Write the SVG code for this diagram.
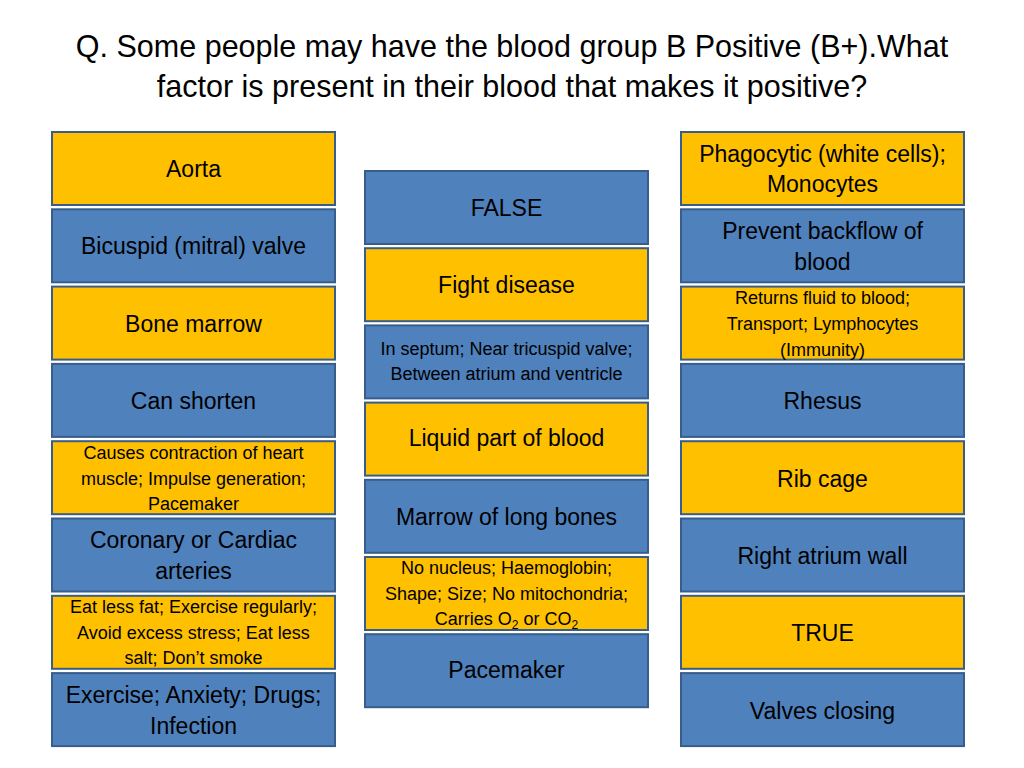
<svg xmlns="http://www.w3.org/2000/svg" width="1024" height="768" viewBox="0 0 1024 768">
<style>
.y{fill:#FFC000;stroke:#385D8A;stroke-width:2}
.b{fill:#4F81BD;stroke:#385D8A;stroke-width:2}
text{font-family:"Liberation Sans",Arial,sans-serif;fill:#000;text-anchor:middle}
.t{font-size:30.5px}
.m{font-size:23px}
.s{font-size:18px}
</style>
<rect width="1024" height="768" fill="#fff"/>
<g id="title">
<text class="t" x="512" y="57">Q. Some people may have the blood group B Positive (B+).What</text>
<text class="t" x="512" y="97">factor is present in their blood that makes it positive?</text>
</g>
<g id="left">
<g id="aorta"><rect class="y" x="52" y="132" width="283" height="73"/><text class="m" x="193.5" y="177">Aorta</text></g>
<g id="bicuspid"><rect class="b" x="52" y="209.3" width="283" height="73"/><text class="m" x="193.5" y="254">Bicuspid (mitral) valve</text></g>
<g id="bonemarrow"><rect class="y" x="52" y="286.6" width="283" height="73"/><text class="m" x="193.5" y="332">Bone marrow</text></g>
<g id="canshorten"><rect class="b" x="52" y="363.9" width="283" height="73"/><text class="m" x="193.5" y="409">Can shorten</text></g>
<g id="causes"><rect class="y" x="52" y="441.2" width="283" height="73"/><text class="s" x="193.5" y="459">Causes contraction of heart</text><text class="s" x="193.5" y="484.5">muscle; Impulse generation;</text><text class="s" x="193.5" y="510">Pacemaker</text></g>
<g id="coronary"><rect class="b" x="52" y="518.5" width="283" height="73"/><text class="m" x="193.5" y="548">Coronary or Cardiac</text><text class="m" x="193.5" y="579">arteries</text></g>
<g id="eatless"><rect class="y" x="52" y="595.8" width="283" height="73"/><text class="s" x="193.5" y="613">Eat less fat; Exercise regularly;</text><text class="s" x="193.5" y="639">Avoid excess stress; Eat less</text><text class="s" x="193.5" y="664">salt; Don’t smoke</text></g>
<g id="exercise"><rect class="b" x="52" y="673.1" width="283" height="73"/><text class="m" x="193.5" y="703">Exercise; Anxiety; Drugs;</text><text class="m" x="193.5" y="734">Infection</text></g>
</g>
<g id="middle">
<g id="false"><rect class="b" x="365" y="171" width="283" height="73"/><text class="m" x="506.5" y="216">FALSE</text></g>
<g id="fight"><rect class="y" x="365" y="248.2" width="283" height="73"/><text class="m" x="506.5" y="293">Fight disease</text></g>
<g id="septum"><rect class="b" x="365" y="325.4" width="283" height="73"/><text class="s" x="506.5" y="355">In septum; Near tricuspid valve;</text><text class="s" x="506.5" y="380">Between atrium and ventricle</text></g>
<g id="liquid"><rect class="y" x="365" y="402.6" width="283" height="73"/><text class="m" x="506.5" y="446">Liquid part of blood</text></g>
<g id="marrow"><rect class="b" x="365" y="479.8" width="283" height="73"/><text class="m" x="506.5" y="525">Marrow of long bones</text></g>
<g id="nucleus"><rect class="y" x="365" y="557" width="283" height="73"/><text class="s" x="506.5" y="574">No nucleus; Haemoglobin;</text><text class="s" x="506.5" y="600">Shape; Size; No mitochondria;</text><text class="s" x="506.5" y="625">Carries O<tspan font-size="12" dy="4">2</tspan><tspan dy="-4"> or CO</tspan><tspan font-size="12" dy="4">2</tspan></text></g>
<g id="pacemaker"><rect class="b" x="365" y="634.2" width="283" height="73"/><text class="m" x="506.5" y="678">Pacemaker</text></g>
</g>
<g id="right">
<g id="phagocytic"><rect class="y" x="681" y="132" width="283" height="73"/><text class="m" x="822.5" y="162">Phagocytic (white cells);</text><text class="m" x="822.5" y="192">Monocytes</text></g>
<g id="prevent"><rect class="b" x="681" y="209.3" width="283" height="73"/><text class="m" x="822.5" y="239">Prevent backflow of</text><text class="m" x="822.5" y="270">blood</text></g>
<g id="returns"><rect class="y" x="681" y="286.6" width="283" height="73"/><text class="s" x="822.5" y="304">Returns fluid to blood;</text><text class="s" x="822.5" y="330">Transport; Lymphocytes</text><text class="s" x="822.5" y="356">(Immunity)</text></g>
<g id="rhesus"><rect class="b" x="681" y="363.9" width="283" height="73"/><text class="m" x="822.5" y="409">Rhesus</text></g>
<g id="ribcage"><rect class="y" x="681" y="441.2" width="283" height="73"/><text class="m" x="822.5" y="487">Rib cage</text></g>
<g id="atrium"><rect class="b" x="681" y="518.5" width="283" height="73"/><text class="m" x="822.5" y="564">Right atrium wall</text></g>
<g id="true"><rect class="y" x="681" y="595.8" width="283" height="73"/><text class="m" x="822.5" y="641">TRUE</text></g>
<g id="valves"><rect class="b" x="681" y="673.1" width="283" height="73"/><text class="m" x="822.5" y="719">Valves closing</text></g>
</g>
</svg>
